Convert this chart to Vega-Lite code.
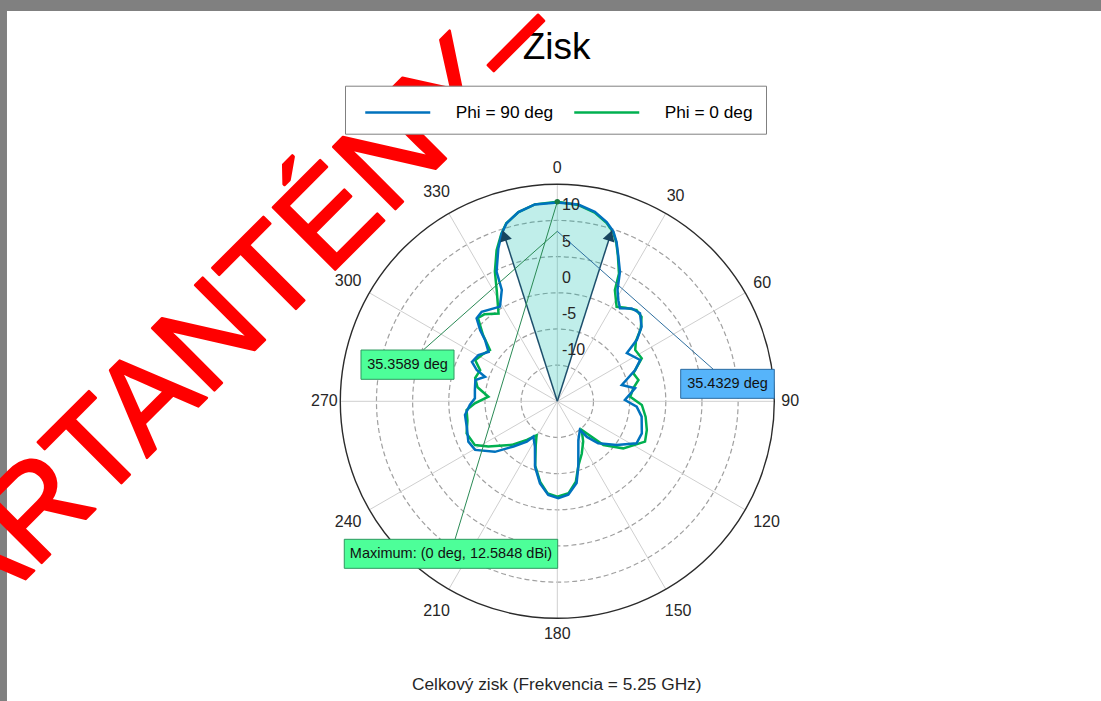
{
  "$schema": "https://vega.github.io/schema/vega-lite/v6.json",
  "width": 434,
  "height": 434,
  "autosize": {"type": "none"},
  "padding": {"left": 340.3, "top": 184.3, "right": 326.7, "bottom": 82.7},
  "background": "white",
  "config": {"view": {"stroke": null}, "text": {"font": "Liberation Sans"}},
  "datasets": {
    "pattern": [
      {"series": "Phi = 90 deg", "angle": 0, "gain": 12.5},
      {"series": "Phi = 90 deg", "angle": 6.1, "gain": 12.36},
      {"series": "Phi = 90 deg", "angle": 11.2, "gain": 11.7},
      {"series": "Phi = 90 deg", "angle": 15.4, "gain": 10.7},
      {"series": "Phi = 90 deg", "angle": 18.3, "gain": 9.7},
      {"series": "Phi = 90 deg", "angle": 20.4, "gain": 8.5},
      {"series": "Phi = 90 deg", "angle": 22.6, "gain": 6.9},
      {"series": "Phi = 90 deg", "angle": 25.8, "gain": 4.9},
      {"series": "Phi = 90 deg", "angle": 28.4, "gain": 2.5},
      {"series": "Phi = 90 deg", "angle": 31.2, "gain": 1.3},
      {"series": "Phi = 90 deg", "angle": 34.0, "gain": 0.5},
      {"series": "Phi = 90 deg", "angle": 38.7, "gain": 1.45},
      {"series": "Phi = 90 deg", "angle": 43.2, "gain": 1.7},
      {"series": "Phi = 90 deg", "angle": 48.5, "gain": 0.56},
      {"series": "Phi = 90 deg", "angle": 52.3, "gain": -1.1},
      {"series": "Phi = 90 deg", "angle": 55.3, "gain": -3.3},
      {"series": "Phi = 90 deg", "angle": 63.5, "gain": -2.2},
      {"series": "Phi = 90 deg", "angle": 68.1, "gain": -3.4},
      {"series": "Phi = 90 deg", "angle": 75.8, "gain": -5.8},
      {"series": "Phi = 90 deg", "angle": 80.5, "gain": -4.1},
      {"series": "Phi = 90 deg", "angle": 88.9, "gain": -5.65},
      {"series": "Phi = 90 deg", "angle": 93.9, "gain": -4.0},
      {"series": "Phi = 90 deg", "angle": 100.3, "gain": -3.15},
      {"series": "Phi = 90 deg", "angle": 110.8, "gain": -2.5},
      {"series": "Phi = 90 deg", "angle": 117.9, "gain": -2.6},
      {"series": "Phi = 90 deg", "angle": 126.3, "gain": -4.8},
      {"series": "Phi = 90 deg", "angle": 135.7, "gain": -6.9},
      {"series": "Phi = 90 deg", "angle": 140.3, "gain": -8.6},
      {"series": "Phi = 90 deg", "angle": 141.7, "gain": -9.95},
      {"series": "Phi = 90 deg", "angle": 151.5, "gain": -8.9},
      {"series": "Phi = 90 deg", "angle": 162.2, "gain": -5.5},
      {"series": "Phi = 90 deg", "angle": 166.7, "gain": -3.4},
      {"series": "Phi = 90 deg", "angle": 173.3, "gain": -2.0},
      {"series": "Phi = 90 deg", "angle": 179.4, "gain": -1.6},
      {"series": "Phi = 90 deg", "angle": 185.5, "gain": -2.0},
      {"series": "Phi = 90 deg", "angle": 191.9, "gain": -3.4},
      {"series": "Phi = 90 deg", "angle": 198.8, "gain": -5.45},
      {"series": "Phi = 90 deg", "angle": 206.2, "gain": -8.0},
      {"series": "Phi = 90 deg", "angle": 214.1, "gain": -9.1},
      {"series": "Phi = 90 deg", "angle": 217.1, "gain": -8.0},
      {"series": "Phi = 90 deg", "angle": 224.1, "gain": -6.3},
      {"series": "Phi = 90 deg", "angle": 231.0, "gain": -3.9},
      {"series": "Phi = 90 deg", "angle": 239.4, "gain": -1.8},
      {"series": "Phi = 90 deg", "angle": 245.6, "gain": -1.5},
      {"series": "Phi = 90 deg", "angle": 254.3, "gain": -2.0},
      {"series": "Phi = 90 deg", "angle": 261.6, "gain": -2.1},
      {"series": "Phi = 90 deg", "angle": 267.6, "gain": -2.9},
      {"series": "Phi = 90 deg", "angle": 272.1, "gain": -3.6},
      {"series": "Phi = 90 deg", "angle": 277.8, "gain": -3.5},
      {"series": "Phi = 90 deg", "angle": 284.5, "gain": -3.3},
      {"series": "Phi = 90 deg", "angle": 288.8, "gain": -4.45},
      {"series": "Phi = 90 deg", "angle": 291.2, "gain": -3.05},
      {"series": "Phi = 90 deg", "angle": 294.8, "gain": -2.0},
      {"series": "Phi = 90 deg", "angle": 300.4, "gain": -2.35},
      {"series": "Phi = 90 deg", "angle": 305.7, "gain": -3.3},
      {"series": "Phi = 90 deg", "angle": 310.3, "gain": -1.9},
      {"series": "Phi = 90 deg", "angle": 312.7, "gain": -0.5},
      {"series": "Phi = 90 deg", "angle": 315.8, "gain": 1.0},
      {"series": "Phi = 90 deg", "angle": 319.8, "gain": 1.2},
      {"series": "Phi = 90 deg", "angle": 328.8, "gain": 0.3},
      {"series": "Phi = 90 deg", "angle": 333.5, "gain": 2.2},
      {"series": "Phi = 90 deg", "angle": 334.9, "gain": 4.8},
      {"series": "Phi = 90 deg", "angle": 338.9, "gain": 7.65},
      {"series": "Phi = 90 deg", "angle": 341.7, "gain": 9.45},
      {"series": "Phi = 90 deg", "angle": 344.1, "gain": 10.6},
      {"series": "Phi = 90 deg", "angle": 348.4, "gain": 11.7},
      {"series": "Phi = 90 deg", "angle": 353.5, "gain": 12.4},
      {"series": "Phi = 0 deg", "angle": 0, "gain": 12.58},
      {"series": "Phi = 0 deg", "angle": 6, "gain": 12.3},
      {"series": "Phi = 0 deg", "angle": 11.2, "gain": 11.6},
      {"series": "Phi = 0 deg", "angle": 15.4, "gain": 10.6},
      {"series": "Phi = 0 deg", "angle": 18.3, "gain": 9.6},
      {"series": "Phi = 0 deg", "angle": 20.4, "gain": 8.4},
      {"series": "Phi = 0 deg", "angle": 22.6, "gain": 6.8},
      {"series": "Phi = 0 deg", "angle": 25.8, "gain": 4.6},
      {"series": "Phi = 0 deg", "angle": 27.4, "gain": 2.3},
      {"series": "Phi = 0 deg", "angle": 32.1, "gain": 0.43},
      {"series": "Phi = 0 deg", "angle": 36, "gain": 1.0},
      {"series": "Phi = 0 deg", "angle": 41, "gain": 1.7},
      {"series": "Phi = 0 deg", "angle": 44.9, "gain": 1.5},
      {"series": "Phi = 0 deg", "angle": 49, "gain": 0.3},
      {"series": "Phi = 0 deg", "angle": 52.5, "gain": -1.3},
      {"series": "Phi = 0 deg", "angle": 56.6, "gain": -2.1},
      {"series": "Phi = 0 deg", "angle": 63, "gain": -1.9},
      {"series": "Phi = 0 deg", "angle": 69.8, "gain": -3.8},
      {"series": "Phi = 0 deg", "angle": 75.3, "gain": -3.4},
      {"series": "Phi = 0 deg", "angle": 80, "gain": -4.3},
      {"series": "Phi = 0 deg", "angle": 86.4, "gain": -4.9},
      {"series": "Phi = 0 deg", "angle": 92.5, "gain": -3.3},
      {"series": "Phi = 0 deg", "angle": 100, "gain": -2.6},
      {"series": "Phi = 0 deg", "angle": 107.8, "gain": -2.0},
      {"series": "Phi = 0 deg", "angle": 114.7, "gain": -1.65},
      {"series": "Phi = 0 deg", "angle": 125.5, "gain": -3.8},
      {"series": "Phi = 0 deg", "angle": 133.5, "gain": -6.2},
      {"series": "Phi = 0 deg", "angle": 139.6, "gain": -9.8},
      {"series": "Phi = 0 deg", "angle": 147.2, "gain": -8.4},
      {"series": "Phi = 0 deg", "angle": 155, "gain": -7.0},
      {"series": "Phi = 0 deg", "angle": 162, "gain": -5.6},
      {"series": "Phi = 0 deg", "angle": 167, "gain": -3.6},
      {"series": "Phi = 0 deg", "angle": 173, "gain": -2.2},
      {"series": "Phi = 0 deg", "angle": 180, "gain": -1.8},
      {"series": "Phi = 0 deg", "angle": 186, "gain": -2.2},
      {"series": "Phi = 0 deg", "angle": 192, "gain": -3.6},
      {"series": "Phi = 0 deg", "angle": 199, "gain": -5.6},
      {"series": "Phi = 0 deg", "angle": 206, "gain": -8.2},
      {"series": "Phi = 0 deg", "angle": 211.4, "gain": -9.5},
      {"series": "Phi = 0 deg", "angle": 218.3, "gain": -8.2},
      {"series": "Phi = 0 deg", "angle": 226.2, "gain": -6.3},
      {"series": "Phi = 0 deg", "angle": 236.7, "gain": -3.6},
      {"series": "Phi = 0 deg", "angle": 242, "gain": -2.1},
      {"series": "Phi = 0 deg", "angle": 250.5, "gain": -1.7},
      {"series": "Phi = 0 deg", "angle": 258, "gain": -2.3},
      {"series": "Phi = 0 deg", "angle": 264.5, "gain": -2.4},
      {"series": "Phi = 0 deg", "angle": 268.6, "gain": -3.6},
      {"series": "Phi = 0 deg", "angle": 273.8, "gain": -5.45},
      {"series": "Phi = 0 deg", "angle": 280, "gain": -3.8},
      {"series": "Phi = 0 deg", "angle": 285.8, "gain": -3.2},
      {"series": "Phi = 0 deg", "angle": 292, "gain": -3.5},
      {"series": "Phi = 0 deg", "angle": 296.6, "gain": -2.3},
      {"series": "Phi = 0 deg", "angle": 302, "gain": -2.8},
      {"series": "Phi = 0 deg", "angle": 307.3, "gain": -3.3},
      {"series": "Phi = 0 deg", "angle": 311.7, "gain": -1.25},
      {"series": "Phi = 0 deg", "angle": 316.4, "gain": 0.9},
      {"series": "Phi = 0 deg", "angle": 320, "gain": 0.7},
      {"series": "Phi = 0 deg", "angle": 326.2, "gain": -0.4},
      {"series": "Phi = 0 deg", "angle": 331.4, "gain": 2.5},
      {"series": "Phi = 0 deg", "angle": 334.3, "gain": 4.9},
      {"series": "Phi = 0 deg", "angle": 338.1, "gain": 7.5},
      {"series": "Phi = 0 deg", "angle": 341.5, "gain": 9.4},
      {"series": "Phi = 0 deg", "angle": 344, "gain": 10.6},
      {"series": "Phi = 0 deg", "angle": 348.4, "gain": 11.7},
      {"series": "Phi = 0 deg", "angle": 353.5, "gain": 12.4}
    ],
    "beam": [
      {"angle": -90, "gain": -15},
      {"angle": -17.7, "gain": 9.8},
      {"angle": -15.9, "gain": 10.6},
      {"angle": -11.6, "gain": 11.7},
      {"angle": -6.5, "gain": 12.4},
      {"angle": 0, "gain": 12.5},
      {"angle": 6.1, "gain": 12.36},
      {"angle": 11.2, "gain": 11.7},
      {"angle": 15.4, "gain": 10.7},
      {"angle": 17.7, "gain": 9.8}
    ],
    "hpbw": [
      {"angle": -17.7, "gain": 9.8},
      {"angle": 17.7, "gain": 9.8}
    ],
    "rings": [
      {"level": -10}, {"level": -5}, {"level": 0}, {"level": 5}, {"level": 10}, {"level": 15}
    ],
    "spokes": [
      {"angle": 0}, {"angle": 30}, {"angle": 60}, {"angle": 90}, {"angle": 120}, {"angle": 150},
      {"angle": 180}, {"angle": 210}, {"angle": 240}, {"angle": 270}, {"angle": 300}, {"angle": 330}
    ],
    "mag": [
      {"value": 10}, {"value": 5}, {"value": 0}, {"value": -5}, {"value": -10}
    ]
  },
  "layer": [
    {
      "data": {"values": [{}]},
      "mark": {"type": "rect", "fill": "#808080"},
      "encoding": {
        "x": {"datum": -80, "type": "quantitative", "scale": {"domain": [-30, 30], "nice": false, "zero": false}, "axis": null},
        "x2": {"datum": 80},
        "y": {"datum": 53.96, "type": "quantitative", "scale": {"domain": [-30, 30], "nice": false, "zero": false}, "axis": null},
        "y2": {"datum": 60}
      }
    },
    {
      "data": {"values": [{}]},
      "mark": {"type": "rect", "fill": "#808080"},
      "encoding": {
        "x": {"datum": -80, "type": "quantitative", "scale": {"domain": [-30, 30], "nice": false, "zero": false}, "axis": null},
        "x2": {"datum": -76.08},
        "y": {"datum": -60, "type": "quantitative", "scale": {"domain": [-30, 30], "nice": false, "zero": false}, "axis": null},
        "y2": {"datum": 60}
      }
    },
    {
      "data": {"name": "rings"},
      "transform": [{"filter": "datum.level < 15"}, {"calculate": "datum.level + 15", "as": "rho"}, {"calculate": "0", "as": "cx"}],
      "mark": {"type": "point", "shape": "circle", "filled": false, "stroke": "#a0a0a0", "strokeWidth": 1.2, "strokeDash": [5, 3], "opacity": 1},
      "encoding": {
        "x": {"field": "cx", "type": "quantitative", "scale": {"domain": [-30, 30], "nice": false, "zero": false}, "axis": null},
        "y": {"field": "cx", "type": "quantitative", "scale": {"domain": [-30, 30], "nice": false, "zero": false}, "axis": null},
        "size": {"field": "rho", "type": "quantitative", "scale": {"type": "pow", "exponent": 2, "domain": [0, 30], "range": [0, 188356]}, "legend": null}
      }
    },
    {
      "data": {"name": "spokes"},
      "transform": [
        {"calculate": "0", "as": "cx"},
        {"calculate": "30 * sin(datum.angle * PI / 180)", "as": "sx"},
        {"calculate": "30 * cos(datum.angle * PI / 180)", "as": "sy"}
      ],
      "mark": {"type": "rule", "color": "#cfcfcf", "strokeWidth": 1},
      "encoding": {
        "x": {"field": "cx", "type": "quantitative", "scale": {"domain": [-30, 30], "nice": false, "zero": false}, "axis": null},
        "y": {"field": "cx", "type": "quantitative", "scale": {"domain": [-30, 30], "nice": false, "zero": false}, "axis": null},
        "x2": {"field": "sx"},
        "y2": {"field": "sy"}
      }
    },
    {
      "data": {"name": "rings"},
      "transform": [{"filter": "datum.level == 15"}, {"calculate": "datum.level + 15", "as": "rho"}, {"calculate": "0", "as": "cx"}],
      "mark": {"type": "point", "shape": "circle", "filled": false, "stroke": "#2b2b2b", "strokeWidth": 1.4, "opacity": 1},
      "encoding": {
        "x": {"field": "cx", "type": "quantitative", "scale": {"domain": [-30, 30], "nice": false, "zero": false}, "axis": null},
        "y": {"field": "cx", "type": "quantitative", "scale": {"domain": [-30, 30], "nice": false, "zero": false}, "axis": null},
        "size": {"field": "rho", "type": "quantitative", "scale": {"type": "pow", "exponent": 2, "domain": [0, 30], "range": [0, 188356]}, "legend": null}
      }
    },
    {
      "data": {"name": "beam"},
      "transform": [
        {"calculate": "datum.gain + 15", "as": "rho"},
        {"calculate": "datum.rho * sin(datum.angle * PI / 180)", "as": "x"},
        {"calculate": "datum.rho * cos(datum.angle * PI / 180)", "as": "y"}
      ],
      "mark": {"type": "line", "interpolate": "linear-closed", "fill": "#03bbab", "fillOpacity": 0.25, "strokeOpacity": 0},
      "encoding": {
        "x": {"field": "x", "type": "quantitative", "scale": {"domain": [-30, 30], "nice": false, "zero": false}, "axis": null},
        "y": {"field": "y", "type": "quantitative", "scale": {"domain": [-30, 30], "nice": false, "zero": false}, "axis": null},
        "order": {"field": "angle", "type": "quantitative"}
      }
    },
    {
      "data": {"name": "pattern"},
      "transform": [
        {"filter": "datum.series == 'Phi = 0 deg'"},
        {"calculate": "datum.gain + 15", "as": "rho"},
        {"calculate": "datum.rho * sin(datum.angle * PI / 180)", "as": "x"},
        {"calculate": "datum.rho * cos(datum.angle * PI / 180)", "as": "y"}
      ],
      "mark": {"type": "line", "interpolate": "linear-closed", "strokeWidth": 2.5},
      "encoding": {
        "x": {"field": "x", "type": "quantitative", "scale": {"domain": [-30, 30], "nice": false, "zero": false}, "axis": null},
        "y": {"field": "y", "type": "quantitative", "scale": {"domain": [-30, 30], "nice": false, "zero": false}, "axis": null},
        "order": {"field": "angle", "type": "quantitative"},
        "color": {
          "field": "series", "type": "nominal",
          "scale": {"domain": ["Phi = 90 deg", "Phi = 0 deg"], "range": ["#0072bd", "#00b050"]},
          "legend": {
            "orient": "none", "legendX": 4.7, "legendY": -98.6, "direction": "horizontal", "title": null,
            "symbolType": "M-2.6,0L2.6,0", "symbolSize": 625, "symbolStrokeWidth": 2.5,
            "symbolOffset": 26.25, "labelOffset": 43.9, "columnPadding": 13,
            "labelFont": "Liberation Sans", "labelFontSize": 17.3, "labelColor": "black",
            "padding": 12.5,
            "strokeColor": "#808080", "fillColor": "white"
          }
        }
      }
    },
    {
      "data": {"name": "pattern"},
      "transform": [
        {"filter": "datum.series == 'Phi = 90 deg'"},
        {"calculate": "datum.gain + 15", "as": "rho"},
        {"calculate": "datum.rho * sin(datum.angle * PI / 180)", "as": "x"},
        {"calculate": "datum.rho * cos(datum.angle * PI / 180)", "as": "y"}
      ],
      "mark": {"type": "line", "interpolate": "linear-closed", "strokeWidth": 2.5},
      "encoding": {
        "x": {"field": "x", "type": "quantitative", "scale": {"domain": [-30, 30], "nice": false, "zero": false}, "axis": null},
        "y": {"field": "y", "type": "quantitative", "scale": {"domain": [-30, 30], "nice": false, "zero": false}, "axis": null},
        "order": {"field": "angle", "type": "quantitative"},
        "color": {"field": "series", "type": "nominal"}
      }
    },
    {
      "data": {"name": "hpbw"},
      "transform": [
        {"calculate": "0", "as": "cx"},
        {"calculate": "datum.gain + 15", "as": "rho"},
        {"calculate": "datum.rho * sin(datum.angle * PI / 180)", "as": "x"},
        {"calculate": "datum.rho * cos(datum.angle * PI / 180)", "as": "y"}
      ],
      "mark": {"type": "rule", "color": "#1d4f6c", "strokeWidth": 1.5},
      "encoding": {
        "x": {"field": "cx", "type": "quantitative", "scale": {"domain": [-30, 30], "nice": false, "zero": false}, "axis": null},
        "y": {"field": "cx", "type": "quantitative", "scale": {"domain": [-30, 30], "nice": false, "zero": false}, "axis": null},
        "x2": {"field": "x"},
        "y2": {"field": "y"}
      }
    },
    {
      "data": {"name": "hpbw"},
      "transform": [
        {"calculate": "datum.gain + 15 - 0.75", "as": "rho"},
        {"calculate": "datum.rho * sin(datum.angle * PI / 180)", "as": "x"},
        {"calculate": "datum.rho * cos(datum.angle * PI / 180)", "as": "y"}
      ],
      "mark": {"type": "point", "shape": "triangle-up", "filled": true, "color": "#17455f", "size": 150, "opacity": 1},
      "encoding": {
        "x": {"field": "x", "type": "quantitative", "scale": {"domain": [-30, 30], "nice": false, "zero": false}, "axis": null},
        "y": {"field": "y", "type": "quantitative", "scale": {"domain": [-30, 30], "nice": false, "zero": false}, "axis": null},
        "angle": {"field": "angle", "type": "quantitative", "scale": null}
      }
    },
    {
      "data": {"values": [{}]},
      "mark": {"type": "rule", "color": "#2a8a55", "strokeWidth": 1},
      "encoding": {
        "x": {"datum": -18.53, "type": "quantitative", "scale": {"domain": [-30, 30], "nice": false, "zero": false}, "axis": null},
        "y": {"datum": 7.09, "type": "quantitative", "scale": {"domain": [-30, 30], "nice": false, "zero": false}, "axis": null},
        "x2": {"datum": 0},
        "y2": {"datum": 23.5}
      }
    },
    {
      "data": {"values": [{}]},
      "mark": {"type": "rule", "color": "#2f6f9f", "strokeWidth": 1},
      "encoding": {
        "x": {"datum": 0, "type": "quantitative", "scale": {"domain": [-30, 30], "nice": false, "zero": false}, "axis": null},
        "y": {"datum": 23.5, "type": "quantitative", "scale": {"domain": [-30, 30], "nice": false, "zero": false}, "axis": null},
        "x2": {"datum": 21.57},
        "y2": {"datum": 4.42}
      }
    },
    {
      "data": {"values": [{}]},
      "mark": {"type": "rule", "color": "#2a8a55", "strokeWidth": 1},
      "encoding": {
        "x": {"datum": 0, "type": "quantitative", "scale": {"domain": [-30, 30], "nice": false, "zero": false}, "axis": null},
        "y": {"datum": 27.58, "type": "quantitative", "scale": {"domain": [-30, 30], "nice": false, "zero": false}, "axis": null},
        "x2": {"datum": -14.14},
        "y2": {"datum": -19.08}
      }
    },
    {
      "data": {"values": [{}]},
      "mark": {"type": "point", "shape": "circle", "filled": true, "color": "#1a7a40", "size": 30, "opacity": 1},
      "encoding": {
        "x": {"datum": 0, "type": "quantitative", "scale": {"domain": [-30, 30], "nice": false, "zero": false}, "axis": null},
        "y": {"datum": 27.58, "type": "quantitative", "scale": {"domain": [-30, 30], "nice": false, "zero": false}, "axis": null}
      }
    },
    {
      "data": {"values": [{}]},
      "mark": {"type": "rect", "fill": "#4dff99", "stroke": "#2e9960", "strokeWidth": 1},
      "encoding": {
        "x": {"datum": -27.14, "type": "quantitative", "scale": {"domain": [-30, 30], "nice": false, "zero": false}, "axis": null},
        "x2": {"datum": -14.28},
        "y": {"datum": 3.04, "type": "quantitative", "scale": {"domain": [-30, 30], "nice": false, "zero": false}, "axis": null},
        "y2": {"datum": 7.09}
      }
    },
    {
      "data": {"values": [{}]},
      "mark": {"type": "rect", "fill": "#56b4fa", "stroke": "#2a6aa0", "strokeWidth": 1},
      "encoding": {
        "x": {"datum": 17.06, "type": "quantitative", "scale": {"domain": [-30, 30], "nice": false, "zero": false}, "axis": null},
        "x2": {"datum": 30.0},
        "y": {"datum": 0.41, "type": "quantitative", "scale": {"domain": [-30, 30], "nice": false, "zero": false}, "axis": null},
        "y2": {"datum": 4.42}
      }
    },
    {
      "data": {"values": [{}]},
      "mark": {"type": "rect", "fill": "#4dff99", "stroke": "#2e9960", "strokeWidth": 1},
      "encoding": {
        "x": {"datum": -29.45, "type": "quantitative", "scale": {"domain": [-30, 30], "nice": false, "zero": false}, "axis": null},
        "x2": {"datum": 0.055},
        "y": {"datum": -23.09, "type": "quantitative", "scale": {"domain": [-30, 30], "nice": false, "zero": false}, "axis": null},
        "y2": {"datum": -19.08}
      }
    },
    {
      "data": {"values": [{}]},
      "mark": {"type": "text", "text": "35.3589 deg", "fontSize": 14.5, "color": "#111111", "align": "center", "baseline": "middle"},
      "encoding": {
        "x": {"datum": -20.71, "type": "quantitative", "scale": {"domain": [-30, 30], "nice": false, "zero": false}, "axis": null},
        "y": {"datum": 5.06, "type": "quantitative", "scale": {"domain": [-30, 30], "nice": false, "zero": false}, "axis": null}
      }
    },
    {
      "data": {"values": [{}]},
      "mark": {"type": "text", "text": "35.4329 deg", "fontSize": 14.5, "color": "#111111", "align": "center", "baseline": "middle"},
      "encoding": {
        "x": {"datum": 23.53, "type": "quantitative", "scale": {"domain": [-30, 30], "nice": false, "zero": false}, "axis": null},
        "y": {"datum": 2.42, "type": "quantitative", "scale": {"domain": [-30, 30], "nice": false, "zero": false}, "axis": null}
      }
    },
    {
      "data": {"values": [{}]},
      "mark": {"type": "text", "text": "Maximum: (0 deg, 12.5848 dBi)", "fontSize": 14.5, "color": "#111111", "align": "center", "baseline": "middle"},
      "encoding": {
        "x": {"datum": -14.7, "type": "quantitative", "scale": {"domain": [-30, 30], "nice": false, "zero": false}, "axis": null},
        "y": {"datum": -21.08, "type": "quantitative", "scale": {"domain": [-30, 30], "nice": false, "zero": false}, "axis": null}
      }
    },
    {
      "data": {"name": "mag"},
      "transform": [{"calculate": "datum.value + 17.07", "as": "ly"}, {"calculate": "0.65", "as": "lx"}],
      "mark": {"type": "text", "fontSize": 16, "color": "#262626", "align": "left", "baseline": "middle"},
      "encoding": {
        "x": {"field": "lx", "type": "quantitative", "scale": {"domain": [-30, 30], "nice": false, "zero": false}, "axis": null},
        "y": {"field": "ly", "type": "quantitative", "scale": {"domain": [-30, 30], "nice": false, "zero": false}, "axis": null},
        "text": {"field": "value", "type": "nominal"}
      }
    },
    {
      "data": {"name": "spokes"},
      "transform": [
        {"calculate": "datum.angle % 90 == 0 ? 32.2 : (datum.angle < 100 ? 32.7 : 33.4)", "as": "lr"},
        {"calculate": "datum.lr * sin(datum.angle * PI / 180)", "as": "lx"},
        {"calculate": "datum.lr * cos(datum.angle * PI / 180)", "as": "ly"}
      ],
      "mark": {"type": "text", "fontSize": 16, "color": "#262626", "align": "center", "baseline": "middle"},
      "encoding": {
        "x": {"field": "lx", "type": "quantitative", "scale": {"domain": [-30, 30], "nice": false, "zero": false}, "axis": null},
        "y": {"field": "ly", "type": "quantitative", "scale": {"domain": [-30, 30], "nice": false, "zero": false}, "axis": null},
        "text": {"field": "angle", "type": "nominal"}
      }
    },
    {
      "data": {"values": [{}]},
      "mark": {"type": "text", "text": "Zisk", "fontSize": 37, "color": "black", "align": "center", "baseline": "alphabetic"},
      "encoding": {
        "x": {"datum": -0.1, "type": "quantitative", "scale": {"domain": [-30, 30], "nice": false, "zero": false}, "axis": null},
        "y": {"datum": 47.28, "type": "quantitative", "scale": {"domain": [-30, 30], "nice": false, "zero": false}, "axis": null}
      }
    },
    {
      "data": {"values": [{}]},
      "mark": {"type": "text", "text": "Celkový zisk (Frekvencia = 5.25 GHz)", "fontSize": 17.3, "color": "#262626", "align": "center", "baseline": "alphabetic"},
      "encoding": {
        "x": {"datum": -0.08, "type": "quantitative", "scale": {"domain": [-30, 30], "nice": false, "zero": false}, "axis": null},
        "y": {"datum": -39.98, "type": "quantitative", "scale": {"domain": [-30, 30], "nice": false, "zero": false}, "axis": null}
      }
    },
    {
      "data": {"values": [{}]},
      "mark": {"type": "text", "text": "ARTANTÉNY–", "font": "Liberation Sans", "fontSize": 128, "angle": -45, "align": "left", "baseline": "alphabetic", "fill": "#ff0000", "stroke": "#ff0000", "strokeWidth": 2.5, "strokeJoin": "round"},
      "encoding": {
        "x": {"datum": -80.64, "type": "quantitative", "scale": {"domain": [-30, 30], "nice": false, "zero": false}, "axis": null},
        "y": {"datum": -31.71, "type": "quantitative", "scale": {"domain": [-30, 30], "nice": false, "zero": false}, "axis": null}
      }
    }
  ]
}
